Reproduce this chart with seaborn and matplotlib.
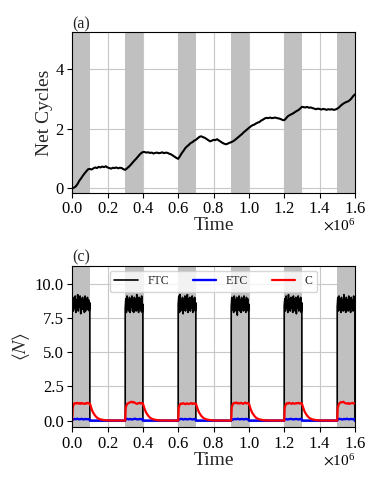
import numpy as np
import pandas as pd
import matplotlib
matplotlib.use('Agg')
import matplotlib.pyplot as plt
import matplotlib.transforms as mtransforms
import seaborn as sns

# protocol: "on" windows (units of 1e6)
on_starts = [0.0, 0.3, 0.6, 0.9, 1.2, 1.5]
on_length = 0.1

# (a) net cycles, sampled every 0.01e6
net_cycles = [
    0.00, 0.02, 0.06, 0.14, 0.25, 0.33, 0.42, 0.50, 0.57, 0.64,
    0.65, 0.63, 0.67, 0.70, 0.68, 0.72, 0.70, 0.73, 0.71, 0.74,
    0.70, 0.68, 0.66, 0.69, 0.68, 0.70, 0.67, 0.69, 0.68, 0.64,
    0.62, 0.67, 0.72, 0.78, 0.85, 0.92, 0.98, 1.05, 1.12, 1.18,
    1.22, 1.22, 1.20, 1.21, 1.19, 1.20, 1.17, 1.19, 1.20, 1.18,
    1.19, 1.21, 1.18, 1.20, 1.19, 1.16, 1.14, 1.10, 1.06, 1.02,
    0.99, 1.08, 1.18, 1.26, 1.35, 1.41, 1.46, 1.52, 1.55, 1.60,
    1.63, 1.68, 1.73, 1.75, 1.72, 1.70, 1.66, 1.62, 1.58, 1.60,
    1.63, 1.62, 1.65, 1.61, 1.57, 1.53, 1.50, 1.48, 1.50, 1.53,
    1.55, 1.58, 1.62, 1.67, 1.72, 1.77, 1.82, 1.88, 1.93, 1.98,
    2.03, 2.08, 2.12, 2.14, 2.18, 2.21, 2.23, 2.28, 2.31, 2.35,
    2.37, 2.36, 2.38, 2.36, 2.37, 2.38, 2.36, 2.35, 2.33, 2.30,
    2.29, 2.35, 2.42, 2.46, 2.49, 2.52, 2.56, 2.60, 2.63, 2.68,
    2.74, 2.73, 2.72, 2.74, 2.71, 2.72, 2.70, 2.68, 2.66, 2.68,
    2.67, 2.65, 2.67, 2.66, 2.64, 2.66, 2.65, 2.66, 2.64, 2.65,
    2.68, 2.72, 2.78, 2.83, 2.87, 2.90, 2.92, 2.96, 3.02, 3.10,
    3.16,
]

# (c) occupancies during each "on" window
ftc_on = [
    [8.4, 9.0, 8.0, 8.9, 8.2, 9.1, 7.9, 8.8, 8.1, 9.2, 8.0, 8.7, 8.3, 9.1, 7.8,
     8.9, 8.1, 9.0, 8.2, 8.8, 7.9, 9.1, 8.0, 8.9, 8.2, 9.0, 8.1, 8.8, 8.0, 8.6],
    [8.2, 8.9, 7.9, 9.1, 8.1, 8.8, 8.0, 9.0, 7.9, 8.9, 8.3, 9.1, 8.0, 8.7, 7.9,
     9.0, 8.2, 8.9, 8.0, 9.2, 8.1, 8.8, 7.9, 9.0, 8.2, 8.9, 8.0, 9.1, 7.9, 8.5],
    [8.5, 9.1, 7.9, 9.2, 8.0, 8.8, 8.2, 9.0, 7.8, 8.9, 8.1, 9.1, 8.0, 8.8, 8.2,
     9.2, 7.9, 8.9, 8.1, 9.0, 8.0, 8.7, 8.2, 9.1, 7.9, 8.9, 8.1, 9.0, 8.0, 8.6],
    [8.3, 9.0, 8.1, 8.9, 7.9, 9.1, 8.0, 8.8, 8.2, 9.0, 7.7, 8.9, 8.1, 9.1, 8.0,
     8.8, 7.9, 9.0, 8.2, 8.9, 8.0, 9.1, 8.1, 8.8, 7.9, 9.0, 8.2, 8.9, 8.0, 8.5],
    [8.4, 8.9, 8.0, 9.1, 8.2, 8.8, 7.9, 9.2, 8.1, 8.9, 8.0, 9.0, 8.2, 8.8, 7.9,
     9.1, 8.1, 8.9, 8.0, 9.0, 7.8, 8.8, 8.2, 9.1, 8.0, 8.9, 8.1, 9.0, 7.9, 8.6],
    [8.3, 9.0, 8.0, 9.1, 8.1, 8.9, 7.9, 9.0, 8.2, 8.8, 8.0, 9.2, 8.1, 8.9, 7.9,
     9.0, 8.2, 8.8, 8.0, 9.1, 8.1, 8.9, 7.9, 9.0, 8.2, 8.8, 8.0, 9.1, 8.1, 8.7],
]
etc_on = [
    [0.08, 0.12, 0.10, 0.14, 0.09, 0.11, 0.13, 0.08, 0.12, 0.10, 0.11, 0.09],
    [0.10, 0.13, 0.09, 0.12, 0.08, 0.11, 0.14, 0.10, 0.09, 0.12, 0.10, 0.11],
    [0.09, 0.11, 0.13, 0.08, 0.12, 0.10, 0.09, 0.13, 0.11, 0.08, 0.12, 0.10],
    [0.11, 0.08, 0.12, 0.10, 0.14, 0.09, 0.11, 0.12, 0.08, 0.13, 0.10, 0.09],
    [0.10, 0.12, 0.08, 0.11, 0.13, 0.10, 0.09, 0.12, 0.11, 0.08, 0.13, 0.10],
    [0.09, 0.13, 0.11, 0.08, 0.12, 0.10, 0.14, 0.09, 0.11, 0.12, 0.10, 0.11],
]
c_on = [
    [0.95, 1.22, 1.28, 1.25, 1.30, 1.24, 1.27, 1.22, 1.29, 1.25, 1.21, 1.27, 1.24, 1.30, 1.25, 1.26],
    [0.95, 1.20, 1.26, 1.30, 1.35, 1.38, 1.32, 1.36, 1.30, 1.25, 1.22, 1.27, 1.30, 1.24, 1.28, 1.26],
    [0.95, 1.18, 1.25, 1.22, 1.27, 1.23, 1.20, 1.26, 1.24, 1.21, 1.25, 1.28, 1.22, 1.26, 1.24, 1.25],
    [0.95, 1.22, 1.30, 1.27, 1.33, 1.25, 1.29, 1.24, 1.30, 1.27, 1.22, 1.28, 1.32, 1.25, 1.27, 1.26],
    [0.95, 1.20, 1.28, 1.24, 1.30, 1.26, 1.22, 1.29, 1.25, 1.23, 1.28, 1.26, 1.30, 1.24, 1.27, 1.25],
    [0.95, 1.22, 1.30, 1.36, 1.33, 1.38, 1.30, 1.26, 1.24, 1.28, 1.22, 1.25, 1.27, 1.29, 1.24, 1.28],
]
# relaxation of C after each window closes
decay_dt = [0.0, 0.005, 0.01, 0.015, 0.02, 0.03, 0.04, 0.05, 0.06, 0.08, 0.1, 0.19]
decay_c = [1.25, 1.05, 0.85, 0.68, 0.55, 0.36, 0.22, 0.14, 0.09, 0.04, 0.015, 0.0]


def build(on_vals, decay=None, first=0.0):
    ts, vs = [], []
    for s, vals in zip(on_starts, on_vals):
        tt = np.linspace(s + first, s + on_length, len(vals))
        ts += [s] + list(tt)
        vs += [0.0] + list(vals)
        end = s + on_length
        if decay is not None:
            if end < 1.6:
                ts += [end + d for d in decay_dt[1:]]
                vs += decay_c[1:]
        else:
            ts += [end]
            vs += [0.0]
    return pd.DataFrame({'time': np.array(ts) * 1e6, 'value': vs})


ftc_df = build(ftc_on)
etc_df = build(etc_on, first=0.002)
c_df = build(c_on, decay=True, first=0.003)
net_df = pd.DataFrame({'time': np.linspace(0, 1.6, len(net_cycles)) * 1e6,
                       'cycles': net_cycles})

sns.set_style('whitegrid', {'axes.edgecolor': 'black', 'grid.color': '#c8c8c8',
                            'xtick.bottom': True, 'ytick.left': True})
plt.rcParams['font.family'] = ['Liberation Serif', 'DejaVu Serif']
plt.rcParams['mathtext.fontset'] = 'stix'
plt.rcParams['xtick.major.size'] = 3.5
plt.rcParams['ytick.major.size'] = 3.5
plt.rcParams['axes.linewidth'] = 0.8

fig = plt.figure(figsize=(3.82, 4.86), dpi=100)
ax1 = fig.add_axes([0.189, 0.6035, 0.740, 0.330])
ax2 = fig.add_axes([0.189, 0.121, 0.740, 0.332])

for ax in (ax1, ax2):
    for s in on_starts:
        ax.axvspan(s * 1e6, (s + on_length) * 1e6, color='#c0c0c0', lw=0, zorder=1)

sns.lineplot(data=net_df, x='time', y='cycles', ax=ax1, color='black', lw=1.5)
ax1.set_ylim(-0.15, 5.25)
ax1.set_yticks([0, 2, 4])
ax1.set_ylabel('Net Cycles', fontsize=14, labelpad=2)
ax1.set_title('(a)', loc='left', fontsize=11.5, pad=2)

sns.lineplot(data=ftc_df, x='time', y='value', ax=ax2, color='black', lw=1.2,
             estimator=None, sort=False, label='FTC')
sns.lineplot(data=etc_df, x='time', y='value', ax=ax2, color='blue', lw=1.7,
             estimator=None, sort=False, label='ETC')
sns.lineplot(data=c_df, x='time', y='value', ax=ax2, color='red', lw=1.6,
             estimator=None, sort=False, label='C')
ax2.set_ylim(-0.48, 11.3)
ax2.set_yticks([0, 2.5, 5, 7.5, 10])
ax2.set_ylabel(r'$\langle N \rangle$', fontsize=14, labelpad=2)
ax2.set_title('(c)', loc='left', fontsize=11.5, pad=2)
ax2.legend(loc='upper center', ncol=3, fontsize=8.5, borderaxespad=0.4)

# nudge the x10^6 multiplier up a little
lift = mtransforms.ScaledTranslation(0, 2 / 72, fig.dpi_scale_trans)
for ax in (ax1, ax2):
    ax.set_xlim(0, 1.6e6)
    ax.set_xticks(np.arange(0, 1.7e6, 2e5))
    ax.ticklabel_format(axis='x', style='sci', scilimits=(0, 0), useMathText=True)
    off = ax.xaxis.get_offset_text()
    off.set_fontsize(11)
    off.set_transform(off.get_transform() + lift)
    ax.set_xlabel('Time', fontsize=14, labelpad=0)
    ax.tick_params(labelsize=12, colors='black', pad=2.5)

fig.savefig('out.png', dpi=100)
